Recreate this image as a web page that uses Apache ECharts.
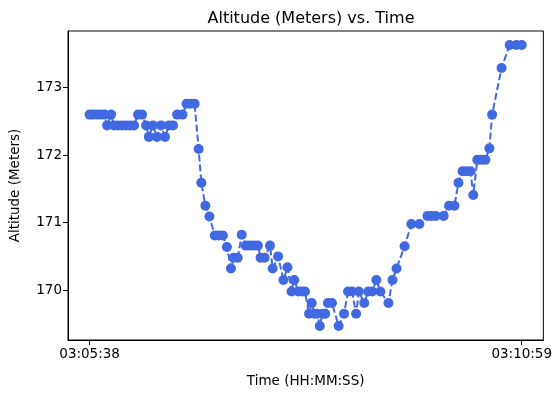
<!DOCTYPE html>
<html>
<head>
<meta charset="utf-8">
<script src="https://cdn.jsdelivr.net/npm/echarts@6/dist/echarts.min.js"></script>
<style>
  html, body { margin: 0; padding: 0; background: #fff; }
  #chart { width: 555px; height: 393px; }
</style>
</head>
<body>
<div id="chart"></div>
<script>
// Sample timestamps (HH:MM:SS)
const times = [
  "03:05:38","03:05:40","03:05:43","03:05:46","03:05:49","03:05:51","03:05:54","03:05:56","03:05:59","03:06:02",
  "03:06:05","03:06:08","03:06:11","03:06:14","03:06:17","03:06:20","03:06:22","03:06:25","03:06:28","03:06:31",
  "03:06:34","03:06:37","03:06:40","03:06:43","03:06:47","03:06:50","03:06:53","03:06:56","03:06:59","03:07:01",
  "03:07:04","03:07:07","03:07:11","03:07:14","03:07:17","03:07:20","03:07:23","03:07:25","03:07:28","03:07:31",
  "03:07:34","03:07:37","03:07:40","03:07:43","03:07:45","03:07:48","03:07:52","03:07:54","03:07:58","03:08:02",
  "03:08:05","03:08:08","03:08:10","03:08:13","03:08:16","03:08:18","03:08:21","03:08:23","03:08:25","03:08:27",
  "03:08:29","03:08:31","03:08:33","03:08:35","03:08:38","03:08:43","03:08:47","03:08:50","03:08:53","03:08:56",
  "03:08:58","03:09:02","03:09:05","03:09:08","03:09:11","03:09:14","03:09:20","03:09:23","03:09:26","03:09:32",
  "03:09:37","03:09:43","03:09:49","03:09:52","03:09:55","03:10:01","03:10:05","03:10:09","03:10:12","03:10:15",
  "03:10:18","03:10:21","03:10:23","03:10:26","03:10:29","03:10:32","03:10:35","03:10:37","03:10:44","03:10:50",
  "03:10:55","03:10:59"
];

// Altitude in meters at each timestamp
const altitudes = [
  172.60,172.60,172.60,172.60,172.60,172.44,172.60,172.44,172.44,172.44,
  172.44,172.44,172.44,172.60,172.60,172.44,172.27,172.44,172.27,172.44,
  172.27,172.44,172.44,172.60,172.60,172.76,172.76,172.76,172.09,171.59,
  171.25,171.09,170.81,170.81,170.81,170.64,170.32,170.48,170.48,170.82,
  170.66,170.66,170.66,170.66,170.48,170.48,170.66,170.32,170.50,170.15,
  170.34,169.98,170.15,169.98,169.98,169.98,169.65,169.81,169.65,169.65,
  169.47,169.65,169.65,169.81,169.81,169.47,169.65,169.98,169.98,169.65,
  169.98,169.81,169.98,169.98,170.15,169.98,169.81,170.15,170.32,170.65,
  170.98,170.98,171.10,171.10,171.10,171.10,171.25,171.25,171.59,171.76,
  171.76,171.76,171.41,171.93,171.93,171.93,172.10,172.60,173.29,173.63,
  173.63,173.63
];

// Labelled ticks
const xTickLabels = ["03:05:38", "03:10:59"];
const yTickValues = [170, 171, 172, 173];

const toSec = s => { const p = s.split(":").map(Number); return p[0] * 3600 + p[1] * 60 + p[2]; };
const pad = n => String(n).padStart(2, "0");
const toClock = sec => {
  sec = Math.round(sec);
  return pad(Math.floor(sec / 3600)) + ":" + pad(Math.floor(sec / 60) % 60) + ":" + pad(sec % 60);
};

const t0 = toSec(times[0]);
const points = times.map((t, i) => [toSec(t) - t0, altitudes[i]]);
const xTicks = xTickLabels.map(s => toSec(s) - t0);

// 5% padding on both axes
const xSpan = points[points.length - 1][0] - points[0][0];
const xMin = points[0][0] - xSpan * 0.05;
const xMax = points[points.length - 1][0] + xSpan * 0.05;
const yLo = Math.min(...altitudes), yHi = Math.max(...altitudes);
const yMin = yLo - (yHi - yLo) * 0.05;
const yMax = yHi + (yHi - yLo) * 0.05;

const FONT = "DejaVu Sans";
const chart = echarts.init(document.getElementById("chart"), null, { renderer: "canvas" });

chart.setOption({
  backgroundColor: "#fff",
  animation: false,
  title: {
    text: "Altitude (Meters) vs. Time",
    left: 306, top: 6, textAlign: "center",
    textStyle: { fontFamily: FONT, fontSize: 16, fontWeight: "normal", color: "#000" }
  },
  grid: {
    left: 67, right: 10, top: 31, bottom: 51,
    show: true, borderColor: "#000", borderWidth: 1, backgroundColor: "transparent"
  },
  xAxis: {
    type: "value", min: xMin, max: xMax,
    name: "Time (HH:MM:SS)", nameLocation: "middle", nameGap: 34,
    nameTextStyle: { fontFamily: FONT, fontSize: 13.5, color: "#000" },
    splitLine: { show: false },
    axisLine: { show: true, onZero: false, lineStyle: { color: "#000", width: 1 } },
    axisTick: { show: true, length: 5, customValues: xTicks, lineStyle: { color: "#000" } },
    axisLabel: {
      customValues: xTicks, margin: 7,
      fontFamily: FONT, fontSize: 13.5, color: "#000",
      formatter: v => toClock(t0 + v)
    }
  },
  yAxis: {
    type: "value", min: yMin, max: yMax,
    name: "Altitude (Meters)", nameLocation: "middle", nameGap: 46, nameRotate: 90,
    nameTextStyle: { fontFamily: FONT, fontSize: 13.5, color: "#000" },
    splitLine: { show: false },
    axisLine: { show: true, onZero: false, lineStyle: { color: "#000", width: 1 } },
    axisTick: { show: true, length: 5, customValues: yTickValues, lineStyle: { color: "#000" } },
    axisLabel: {
      customValues: yTickValues, margin: 6,
      fontFamily: FONT, fontSize: 13.5, color: "#000",
      formatter: v => String(Math.round(v))
    }
  },
  series: [{
    type: "line",
    data: points,
    symbol: "circle",
    symbolSize: 10,
    itemStyle: { color: "#4169E1" },
    lineStyle: { color: "#4169E1", width: 2, type: [7, 3] }
  }]
});
</script>
</body>
</html>
